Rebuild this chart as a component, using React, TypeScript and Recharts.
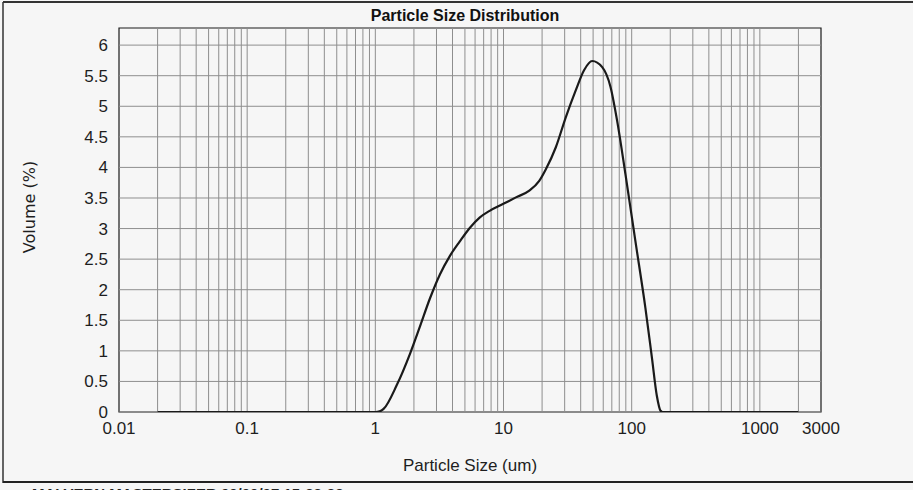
import React from 'react';
import {
  LineChart,
  Line,
  XAxis,
  YAxis,
  ReferenceLine,
  ReferenceArea,
} from 'recharts';

// particle size (um) and volume (%)
const SIZES = [
  0.02, 0.1, 0.5, 1.0, 1.08, 1.16, 1.47, 1.87, 2.23, 2.67, 3.19, 3.81, 4.56, 5.45, 6.51,
  7.79, 9.88, 12.5, 15.9, 19.0, 21.4, 25.6, 30.6, 36.6, 42.5, 49.2, 58.9, 68.3, 76.9,
  89.4, 107, 128, 144, 157, 168, 174, 500, 2000,
];
const VOLUMES = [
  0, 0, 0, 0, 0.01, 0.05, 0.44, 0.96, 1.4, 1.86, 2.25, 2.55, 2.79, 3.01, 3.18,
  3.29, 3.4, 3.51, 3.62, 3.78, 3.97, 4.33, 4.82, 5.26, 5.59, 5.74, 5.64, 5.32, 4.77,
  3.89, 2.79, 1.7, 0.88, 0.27, 0.02, 0, 0, 0,
];

const X_TICKS = [0.01, 0.1, 1, 10, 100, 1000, 3000];
const Y_TICKS = [0, 0.5, 1, 1.5, 2, 2.5, 3, 3.5, 4, 4.5, 5, 5.5, 6];
const DECADES = [0.01, 0.1, 1, 10, 100, 1000];
const MULTIPLES = [1, 2, 3, 4, 5, 6, 7, 8, 9];

const X_MIN = 0.01;
const X_MAX = 3000;
const Y_MAX = 6.28;

const data = SIZES.map((size, i) => ({ size, volume: VOLUMES[i] }));

// log grid: every 1..9 multiple in each decade
const gridX = DECADES.flatMap((d) => MULTIPLES.map((m) => +(d * m).toPrecision(3))).filter(
  (v) => v > X_MIN && v < X_MAX
);

const FONT = '"Liberation Sans", Arial, sans-serif';
const GRID = '#8e8e8e';

export default function App() {
  return (
    <div
      style={{
        position: 'absolute',
        left: 0,
        top: 0,
        width: 913,
        height: 490,
        background: '#f6f6f6',
        overflow: 'hidden',
      }}
    >
      <LineChart
        width={913}
        height={490}
        data={data}
        margin={{ top: 28, right: 92, bottom: 38, left: 59 }}
      >
        <XAxis
          dataKey="size"
          type="number"
          scale="log"
          domain={[X_MIN, X_MAX]}
          ticks={X_TICKS}
          allowDataOverflow
          axisLine={false}
          tickLine={false}
          height={40}
          interval={0}
          tick={{ fill: '#1e1e1e', fontSize: 17, fontFamily: FONT }}
          tickMargin={4}
          tickFormatter={(v: number) => String(v)}
        />
        <YAxis
          type="number"
          domain={[0, Y_MAX]}
          ticks={Y_TICKS}
          allowDataOverflow
          axisLine={false}
          tickLine={false}
          width={60}
          interval={0}
          tick={{ fill: '#1e1e1e', fontSize: 17, fontFamily: FONT }}
          tickMargin={5}
        />
        {Y_TICKS.map((v) => (
          <ReferenceLine key={`h${v}`} y={v} stroke={GRID} strokeWidth={1} />
        ))}
        {gridX.map((v) => (
          <ReferenceLine key={`v${v}`} x={v} stroke={GRID} strokeWidth={1} />
        ))}
        <ReferenceArea
          x1={X_MIN}
          x2={X_MAX}
          y1={0}
          y2={Y_MAX}
          fill="none"
          stroke="#1a1a1a"
          strokeWidth={1.2}
          ifOverflow="extendDomain"
        />
        <Line
          dataKey="volume"
          type="monotone"
          stroke="#1a1a1a"
          strokeWidth={2.2}
          dot={false}
          isAnimationActive={false}
        />
      </LineChart>

      <svg
        width={913}
        height={490}
        style={{ position: 'absolute', left: 0, top: 0, pointerEvents: 'none' }}
      >
        <line x1={3} y1={2} x2={913} y2={2} stroke="#333" strokeWidth={2} />
        <line x1={3} y1={2} x2={3} y2={483} stroke="#333" strokeWidth={1.5} />
        <line x1={3} y1={482} x2={913} y2={482} stroke="#222" strokeWidth={2} />
        <text
          x={465}
          y={21}
          textAnchor="middle"
          fontFamily={'"Liberation Sans Narrow", "Liberation Sans", Arial, sans-serif'}
          fontWeight="bold"
          fontSize={16}
          fill="#111"
        >
          Particle Size Distribution
        </text>
        <text
          x={470}
          y={471}
          textAnchor="middle"
          fontFamily={FONT}
          fontSize={17}
          fill="#1e1e1e"
        >
          Particle Size (um)
        </text>
        <text
          transform="translate(35, 207) rotate(-90)"
          textAnchor="middle"
          fontFamily={'"DejaVu Sans", Verdana, sans-serif'}
          fontSize={16}
          fill="#1e1e1e"
        >
          Volume (%)
        </text>
        <text
          x={32}
          y={499}
          fontFamily={FONT}
          fontWeight="bold"
          fontSize={15}
          fill="#222"
        >
          MALVERN MASTERSIZER 09/09/07 15:22:22
        </text>
      </svg>
    </div>
  );
}
